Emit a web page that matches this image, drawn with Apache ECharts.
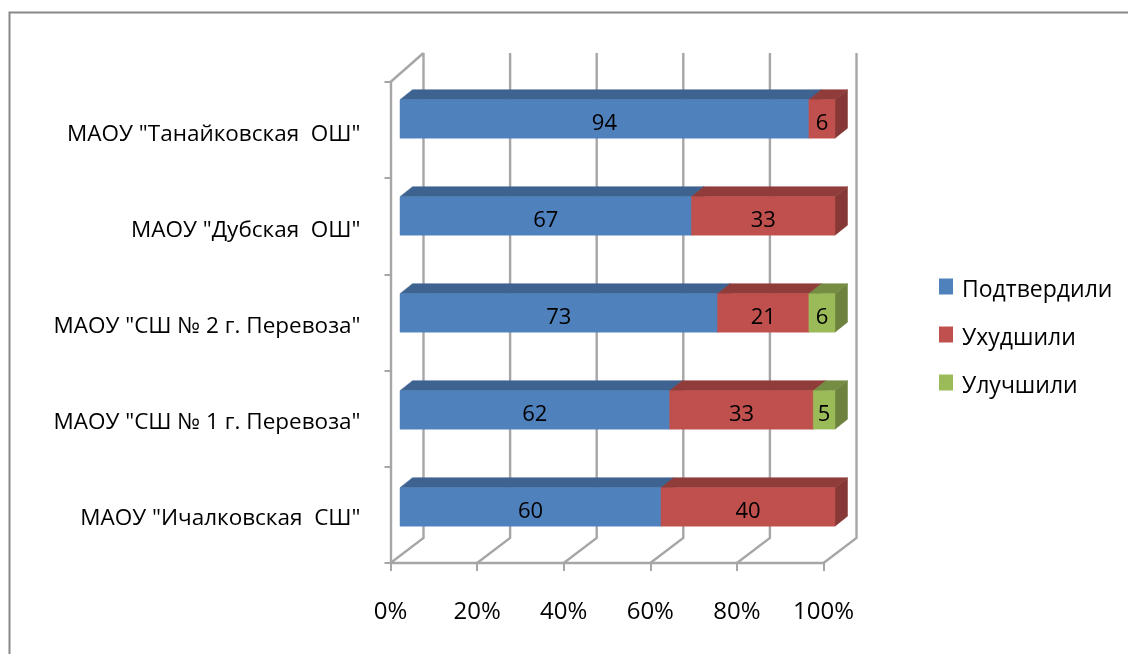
<!DOCTYPE html>
<html><head><meta charset="utf-8">
<style>html,body{margin:0;padding:0;background:#fff}#c{width:1128px;height:654px}</style>
<script src="https://cdn.jsdelivr.net/npm/echarts@6/dist/echarts.min.js"></script>
</head><body><div id="c"></div>
<script>
const categories = ['МАОУ "Ичалковская  СШ"','МАОУ "СШ № 1 г. Перевоза"','МАОУ "СШ № 2 г. Перевоза"','МАОУ "Дубская  ОШ"','МАОУ "Танайковская  ОШ"'];
const confirmed = [60,62,73,67,94];
const worsened = [40,33,21,33,6];
const improved = [0,5,6,0,0];
const seriesNames = ['Подтвердили','Ухудшили','Улучшили'];
const xTicks = [0,20,40,60,80,100];
const FONT = 'Open Sans';
const colors = [
  {front:'#4F81BD',top:'#3E6391',side:'#3A5F8C'},
  {front:'#C0504D',top:'#8F3C3A',side:'#853836'},
  {front:'#9BBB59',top:'#758D43',side:'#6C823E'}
];
const GRID = {left:390.5,top:82,width:433,height:481};
const WALL = {dx:33,dy:-25,topExtra:-4};
const BAR = {ox:9.5,oy:-8,dx:12.5,dy:-10,ratio:0.4,spread:0.8,stretch:0.02};
const AXIS_COLOR = '#a6a6a6';

function stackData(vals, prevs){
  return vals.map((v,i)=>{
    const start = prevs.reduce((s,p)=>s+p[i],0);
    return [start,start+v,i,v];
  });
}
function barItem(c){
  return function(params,api){
    if(api.value(3)===0) return null;
    const cat = api.value(2), band = api.size([0,1])[1], h = band*BAR.ratio;
    const a = api.coord([api.value(0),cat]), b = api.coord([api.value(1),cat]);
    const x0=a[0]+BAR.ox+api.value(0)*BAR.stretch, x1=b[0]+BAR.ox+api.value(1)*BAR.stretch;
    const y0=a[1]+BAR.oy-cat*BAR.spread-h/2, y1=y0+h;
    const poly=(pts,fill)=>({type:'polygon',shape:{points:pts},style:{fill,stroke:fill,lineWidth:0.5}});
    return {type:'group',children:[
      poly([[x1,y0],[x1+BAR.dx,y0+BAR.dy],[x1+BAR.dx,y1+BAR.dy],[x1,y1]],c.side),
      poly([[x0,y0],[x0+BAR.dx,y0+BAR.dy],[x1+BAR.dx,y0+BAR.dy],[x1,y0]],c.top),
      poly([[x0,y0],[x1,y0],[x1,y1],[x0,y1]],c.front),
      {type:'text',style:{x:(x0+x1)/2,y:(y0+y1)/2+5,text:String(api.value(3)),fill:'#000',font:'22px "'+FONT+'"',align:'center',verticalAlign:'middle'}}
    ]};
  };
}
function wallItem(params,api){
  const v=api.value(0);
  const band=api.size([0,1])[1];
  const p=api.coord([v,0]);
  const bottom=p[1]+band/2, top=api.coord([v,categories.length-1])[1]-band/2;
  const backTop=top+WALL.dy+WALL.topExtra;
  const pts=[[p[0],bottom],[p[0]+WALL.dx,bottom+WALL.dy],[p[0]+WALL.dx,backTop]];
  const children=[{type:'polyline',shape:{points:pts},style:{stroke:AXIS_COLOR,lineWidth:2.4,fill:null}}];
  if(v===0) children.push({type:'line',shape:{x1:p[0],y1:top,x2:p[0]+WALL.dx,y2:backTop},style:{stroke:AXIS_COLOR,lineWidth:2.4}});
  return {type:'group',children};
}
const d1=stackData(confirmed,[]), d2=stackData(worsened,[confirmed]), d3=stackData(improved,[confirmed,worsened]);
const chart=echarts.init(document.getElementById('c'),null,{renderer:'canvas'});
const mk=(i,data)=>({type:'custom',name:seriesNames[i],coordinateSystem:'cartesian2d',data,encode:{x:[0,1],y:2},
  itemStyle:{color:colors[i].front},renderItem:barItem(colors[i]),z:3,silent:true,animation:false});
chart.setOption({
  animation:false,
  backgroundColor:'#fff',
  graphic:[{type:'polyline',shape:{points:[[9.5,654],[9.5,12.5],[1128,12.5]]},style:{stroke:'#888',lineWidth:2,fill:null},silent:true}],
  grid:Object.assign({containLabel:false},GRID),
  legend:{orient:'vertical',left:934,top:266,itemWidth:14,itemHeight:16,itemGap:17,icon:'rect',
    formatter:'{t|{name}}',
    textStyle:{fontFamily:FONT,fontSize:23,color:'#000',rich:{t:{fontFamily:FONT,fontSize:23,color:'#000',lineHeight:20,padding:[8,0,0,4]}}},data:seriesNames,selectedMode:false},
  xAxis:{type:'value',min:0,max:100,interval:20,
    axisLine:{show:true,lineStyle:{color:AXIS_COLOR,width:2.4}},
    axisTick:{show:true,length:8,lineStyle:{color:AXIS_COLOR,width:2}},
    splitLine:{show:false},
    axisLabel:{formatter:'{value}%',fontFamily:FONT,fontSize:24,color:'#000',margin:37}},
  yAxis:{type:'category',data:categories,
    axisLine:{show:true,lineStyle:{color:AXIS_COLOR,width:2.4}},
    axisTick:{show:true,length:6,alignWithLabel:false,lineStyle:{color:AXIS_COLOR,width:2}},
    splitLine:{show:false},
    axisLabel:{fontFamily:FONT,fontSize:22.5,color:'#000',margin:30,formatter:v=>'{t|'+v+'}',
      rich:{t:{fontFamily:FONT,fontSize:22.5,color:'#000',lineHeight:24,padding:[8,0,0,0]}}}},
  series:[
    {type:'custom',coordinateSystem:'cartesian2d',data:xTicks.map(v=>[v]),encode:{x:0},renderItem:wallItem,z:1,silent:true,legendHoverLink:false},
    mk(0,d1),mk(1,d2),mk(2,d3)
  ]
});
</script></body></html>
